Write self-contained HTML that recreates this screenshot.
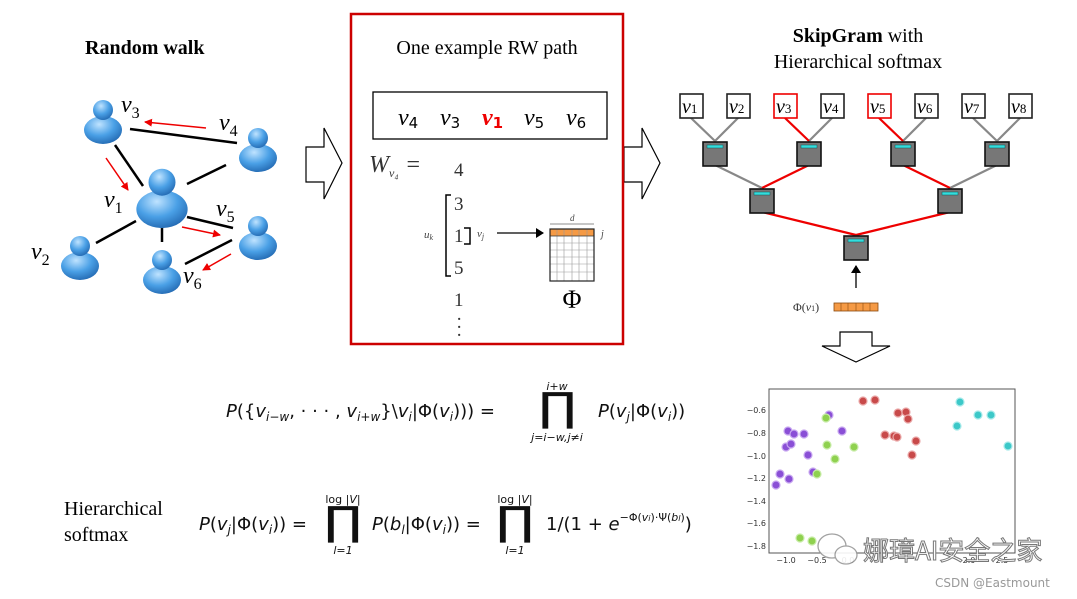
<!DOCTYPE html>
<html><head><meta charset="utf-8"><style>
html,body{margin:0;padding:0;background:#fff;width:1077px;height:599px;overflow:hidden}
svg{display:block}
.s{font-family:"Liberation Serif",serif}
.m{font-family:"Liberation Serif",serif;font-style:italic}
.f{font-family:"DejaVu Sans","Liberation Sans",sans-serif}
</style></head><body>
<svg width="1077" height="599" viewBox="0 0 1077 599" xmlns="http://www.w3.org/2000/svg">
<defs>
<radialGradient id="pg" cx="0.4" cy="0.3" r="0.8">
<stop offset="0" stop-color="#bfe3ff"/><stop offset="0.5" stop-color="#4aa0e6"/><stop offset="1" stop-color="#1c5fa8"/></radialGradient>
<marker id="ar" markerWidth="8" markerHeight="8" refX="7" refY="4" orient="auto" markerUnits="userSpaceOnUse"><path d="M0,0 L8,4 L0,8 z" fill="#e00"/></marker>
<marker id="ab" markerWidth="8" markerHeight="10" refX="7" refY="5" orient="auto" markerUnits="userSpaceOnUse"><path d="M0,0 L8,5 L0,10 z" fill="#000"/></marker>
<g id="p"><ellipse cx="0" cy="12" rx="19" ry="14" fill="url(#pg)"/><circle cx="0" cy="-8" r="10" fill="url(#pg)"/></g>
</defs>

<!-- Random walk -->
<text x="85" y="54" class="s" font-size="20" font-weight="bold">Random walk</text>
<g stroke="#000" stroke-width="2.5">
<line x1="130" y1="129" x2="237" y2="143"/><line x1="115" y1="145" x2="143" y2="186"/>
<line x1="187" y1="184" x2="226" y2="165"/><line x1="96" y1="243" x2="136" y2="221"/>
<line x1="162" y1="224" x2="162" y2="242"/><line x1="187" y1="217" x2="233" y2="228"/>
<line x1="232" y1="240" x2="185" y2="264"/></g>
<g stroke="#e00" stroke-width="1.5">
<line x1="206" y1="128" x2="145" y2="122" marker-end="url(#ar)"/>
<line x1="106" y1="158" x2="128" y2="190" marker-end="url(#ar)"/>
<line x1="182" y1="227" x2="220" y2="235" marker-end="url(#ar)"/>
<line x1="231" y1="254" x2="203" y2="270" marker-end="url(#ar)"/></g>
<use href="#p" x="103" y="118"/><use href="#p" x="258" y="146"/>
<g transform="translate(162,193) scale(1.35)"><use href="#p"/></g>
<use href="#p" x="80" y="254"/><use href="#p" x="162" y="268"/><use href="#p" x="258" y="234"/>
<g class="m" font-size="24">
<text x="121" y="112">v<tspan font-size="16" font-style="normal" dy="6">3</tspan></text>
<text x="219" y="130">v<tspan font-size="16" font-style="normal" dy="6">4</tspan></text>
<text x="104" y="207">v<tspan font-size="16" font-style="normal" dy="6">1</tspan></text>
<text x="216" y="216">v<tspan font-size="16" font-style="normal" dy="6">5</tspan></text>
<text x="31" y="259">v<tspan font-size="16" font-style="normal" dy="6">2</tspan></text>
<text x="183" y="283">v<tspan font-size="16" font-style="normal" dy="6">6</tspan></text>
</g>

<!-- hollow arrows -->
<path d="M306,147 L324,147 L324,128 L342,163 L324,199 L324,182 L306,182 Z" fill="#fff" stroke="#000" stroke-width="1.2"/>
<path d="M624,147 L642,147 L642,128 L660,163 L642,199 L642,182 L624,182 Z" fill="#fff" stroke="#000" stroke-width="1.2"/>
<path d="M840,332 L840,346 L822,346 L856,362 L890,346 L872,346 L872,332 Z" fill="#fff" stroke="#000" stroke-width="1.2"/>

<!-- middle box -->
<rect x="351" y="14" width="272" height="330" fill="none" stroke="#c00" stroke-width="2.5"/>
<text x="487" y="54" class="s" font-size="20" text-anchor="middle">One example RW path</text>
<rect x="373" y="92" width="234" height="47" fill="none" stroke="#000" stroke-width="1.3"/>
<g class="m" font-size="24">
<text x="398" y="125">v<tspan font-size="15" font-style="normal" class="f" dy="3">4</tspan></text>
<text x="440" y="125">v<tspan font-size="15" font-style="normal" class="f" dy="3">3</tspan></text>
<text x="482" y="125" fill="#e00" font-weight="bold">v<tspan font-size="15" font-style="normal" class="f" dy="3">1</tspan></text>
<text x="524" y="125">v<tspan font-size="15" font-style="normal" class="f" dy="3">5</tspan></text>
<text x="566" y="125">v<tspan font-size="15" font-style="normal" class="f" dy="3">6</tspan></text>
</g>
<text x="369" y="172" class="m" font-size="24" fill="#333">W<tspan font-size="12" dy="5">v₄</tspan><tspan dy="-5" font-style="normal" dx="8">=</tspan></text>
<g class="s" font-size="19" fill="#333">
<text x="454" y="176">4</text><text x="454" y="210">3</text><text x="454" y="242">1</text><text x="454" y="274">5</text><text x="454" y="306">1</text>
<text x="456" y="325">·</text><text x="456" y="333">·</text><text x="456" y="341">·</text>
</g>
<path d="M451,195 L446,195 L446,276 L451,276" fill="none" stroke="#000" stroke-width="1.5"/>
<path d="M464,228 L470,228 L470,244 L464,244" fill="none" stroke="#000" stroke-width="1.5"/>
<text x="424" y="238" class="m" font-size="11" fill="#444">u<tspan font-size="8" dy="2">k</tspan></text>
<text x="477" y="237" class="m" font-size="11" fill="#444">v<tspan font-size="8" dy="2">j</tspan></text>
<line x1="497" y1="233" x2="543" y2="233" stroke="#000" stroke-width="1.2" marker-end="url(#ab)"/>
<line x1="550" y1="224" x2="594" y2="224" stroke="#666" stroke-width="0.8"/>
<text x="570" y="221" class="m" font-size="9" fill="#444">d</text>
<text x="601" y="237" class="m" font-size="10" fill="#444">j</text>
<rect x="550" y="229" width="44" height="7" fill="#f59a45"/>
<g stroke="#999" stroke-width="0.6">
<line x1="557" y1="229" x2="557" y2="281"/><line x1="564" y1="229" x2="564" y2="281"/><line x1="572" y1="229" x2="572" y2="281"/><line x1="579" y1="229" x2="579" y2="281"/><line x1="587" y1="229" x2="587" y2="281"/>
<line x1="550" y1="243" x2="594" y2="243"/><line x1="550" y1="250" x2="594" y2="250"/><line x1="550" y1="257" x2="594" y2="257"/><line x1="550" y1="264" x2="594" y2="264"/><line x1="550" y1="272" x2="594" y2="272"/></g>
<line x1="550" y1="236" x2="594" y2="236" stroke="#333" stroke-width="0.8"/>
<rect x="550" y="229" width="44" height="52" fill="none" stroke="#222" stroke-width="1.2"/>
<text x="572" y="308" class="s" font-size="26" text-anchor="middle">Φ</text>

<!-- SkipGram -->
<text x="858" y="42" class="s" font-size="20" text-anchor="middle"><tspan font-weight="bold">SkipGram</tspan> with</text>
<text x="858" y="68" class="s" font-size="20" text-anchor="middle">Hierarchical softmax</text>
<g stroke-width="2.2">
<g stroke="#888">
<line x1="691" y1="118" x2="715" y2="141"/><line x1="738" y1="118" x2="715" y2="141"/>
<line x1="832" y1="118" x2="809" y2="141"/><line x1="926" y1="118" x2="903" y2="141"/>
<line x1="973" y1="118" x2="997" y2="141"/><line x1="1020" y1="118" x2="997" y2="141"/>
<line x1="715" y1="165" x2="762" y2="188"/><line x1="997" y1="165" x2="950" y2="188"/></g>
<g stroke="#e00">
<line x1="785" y1="118" x2="809" y2="141"/><line x1="879" y1="118" x2="903" y2="141"/>
<line x1="809" y1="165" x2="762" y2="188"/><line x1="903" y1="165" x2="950" y2="188"/>
<line x1="762" y1="212" x2="856" y2="235"/><line x1="950" y1="212" x2="856" y2="235"/></g></g>
<g fill="#fff" stroke-width="1.6">
<rect x="680" y="94" width="23" height="24" stroke="#222"/><rect x="727" y="94" width="23" height="24" stroke="#222"/>
<rect x="774" y="94" width="23" height="24" stroke="#e00"/><rect x="821" y="94" width="23" height="24" stroke="#222"/>
<rect x="868" y="94" width="23" height="24" stroke="#e00"/><rect x="915" y="94" width="23" height="24" stroke="#222"/>
<rect x="962" y="94" width="23" height="24" stroke="#222"/><rect x="1009" y="94" width="23" height="24" stroke="#222"/></g>
<g class="m" font-size="20">
<text x="682" y="113">v<tspan font-size="13" font-style="normal">1</tspan></text><text x="729" y="113">v<tspan font-size="13" font-style="normal">2</tspan></text>
<text x="776" y="113">v<tspan font-size="13" font-style="normal">3</tspan></text><text x="823" y="113">v<tspan font-size="13" font-style="normal">4</tspan></text>
<text x="870" y="113">v<tspan font-size="13" font-style="normal">5</tspan></text><text x="917" y="113">v<tspan font-size="13" font-style="normal">6</tspan></text>
<text x="964" y="113">v<tspan font-size="13" font-style="normal">7</tspan></text><text x="1011" y="113">v<tspan font-size="13" font-style="normal">8</tspan></text></g>
<g fill="#777" stroke="#111" stroke-width="1.6">
<rect x="703" y="142" width="24" height="24"/><rect x="797" y="142" width="24" height="24"/><rect x="891" y="142" width="24" height="24"/><rect x="985" y="142" width="24" height="24"/>
<rect x="750" y="189" width="24" height="24"/><rect x="938" y="189" width="24" height="24"/><rect x="844" y="236" width="24" height="24"/></g>
<g fill="#3dd" stroke="#155" stroke-width="0.5">
<rect x="707" y="145" width="16" height="3"/><rect x="801" y="145" width="16" height="3"/><rect x="895" y="145" width="16" height="3"/><rect x="989" y="145" width="16" height="3"/>
<rect x="754" y="192" width="16" height="3"/><rect x="942" y="192" width="16" height="3"/><rect x="848" y="239" width="16" height="3"/></g>
<line x1="856" y1="288" x2="856" y2="266" stroke="#000" stroke-width="1.3" marker-end="url(#ab)"/>
<text x="793" y="311" class="s" font-size="12" fill="#333">Φ(<tspan font-style="italic">v</tspan><tspan font-size="8">1</tspan>)</text>
<rect x="834" y="303" width="44" height="8" fill="#f59a45" stroke="#8a4a10" stroke-width="0.8"/>
<g stroke="#8a4a10" stroke-width="0.6"><line x1="841" y1="303" x2="841" y2="311"/><line x1="848" y1="303" x2="848" y2="311"/><line x1="856" y1="303" x2="856" y2="311"/><line x1="863" y1="303" x2="863" y2="311"/><line x1="870" y1="303" x2="870" y2="311"/></g>

<!-- formulas -->
<g class="f" font-size="18" fill="#111">
<text x="226" y="417"><tspan font-style="italic">P</tspan>({<tspan font-style="italic">v</tspan><tspan font-size="12" font-style="italic" dy="4">i−w</tspan><tspan dy="-4">, · · · , </tspan><tspan font-style="italic">v</tspan><tspan font-size="12" font-style="italic" dy="4">i+w</tspan><tspan dy="-4">}\</tspan><tspan font-style="italic">v</tspan><tspan font-size="12" font-style="italic" dy="4">i</tspan><tspan dy="-4">|Φ(</tspan><tspan font-style="italic">v</tspan><tspan font-size="12" font-style="italic" dy="4">i</tspan><tspan dy="-4">))) =</tspan></text>
<text x="598" y="417"><tspan font-style="italic">P</tspan>(<tspan font-style="italic">v</tspan><tspan font-size="12" font-style="italic" dy="4">j</tspan><tspan dy="-4">|Φ(</tspan><tspan font-style="italic">v</tspan><tspan font-size="12" font-style="italic" dy="4">i</tspan><tspan dy="-4">))</tspan></text>
<text x="199" y="530"><tspan font-style="italic">P</tspan>(<tspan font-style="italic">v</tspan><tspan font-size="12" font-style="italic" dy="4">j</tspan><tspan dy="-4">|Φ(</tspan><tspan font-style="italic">v</tspan><tspan font-size="12" font-style="italic" dy="4">i</tspan><tspan dy="-4">)) =</tspan></text>
<text x="372" y="530"><tspan font-style="italic">P</tspan>(<tspan font-style="italic">b</tspan><tspan font-size="12" font-style="italic" dy="4">l</tspan><tspan dy="-4">|Φ(</tspan><tspan font-style="italic">v</tspan><tspan font-size="12" font-style="italic" dy="4">i</tspan><tspan dy="-4">)) =</tspan></text>
<text x="546" y="530">1/(1 + <tspan font-style="italic">e</tspan><tspan font-size="11" dy="-9">−Φ(<tspan font-style="italic">v<tspan font-size="8">i</tspan></tspan>)·Ψ(<tspan font-style="italic">b<tspan font-size="8">l</tspan></tspan>)</tspan><tspan dy="9">)</tspan></text>
</g>
<g class="f" fill="#111" font-size="40" text-anchor="middle">
<text x="557" y="0" transform="translate(0,421) scale(1.25,1)" dx="-111">∏</text>
<text x="343" y="0" transform="translate(0,535) scale(1.25,1)" dx="-68.6">∏</text>
<text x="515" y="0" transform="translate(0,535) scale(1.25,1)" dx="-103">∏</text></g>
<g class="f" font-size="11" fill="#111" font-style="italic" text-anchor="middle">
<text x="557" y="390">i+w</text><text x="557" y="441">j=i−w,j≠i</text>
<text x="343" y="503" font-style="normal">log |<tspan font-style="italic">V</tspan>|</text><text x="343" y="554">l=1</text>
<text x="515" y="503" font-style="normal">log |<tspan font-style="italic">V</tspan>|</text><text x="515" y="554">l=1</text></g>
<text x="64" y="515" class="s" font-size="20">Hierarchical</text>
<text x="64" y="541" class="s" font-size="20">softmax</text>

<!-- scatter -->
<rect x="769" y="389" width="246" height="164" fill="#fff" stroke="#555" stroke-width="1"/>
<g class="f" font-size="8" fill="#333" text-anchor="end">
<text x="766" y="413">−0.6</text><text x="766" y="436">−0.8</text><text x="766" y="459">−1.0</text><text x="766" y="481">−1.2</text><text x="766" y="504">−1.4</text><text x="766" y="526">−1.6</text><text x="766" y="549">−1.8</text></g>
<g class="f" font-size="8" fill="#333" text-anchor="middle">
<text x="786" y="563">−1.0</text><text x="817" y="563">−0.5</text><text x="848" y="563">0.0</text><text x="969" y="563">2.0</text><text x="1002" y="563">2.5</text></g>
<g fill="#8a4fd6" stroke="#c8a8f0" stroke-width="1.2">
<circle cx="829" cy="415" r="4"/><circle cx="788" cy="431" r="4"/><circle cx="794" cy="434" r="4"/><circle cx="804" cy="434" r="4"/><circle cx="842" cy="431" r="4"/><circle cx="786" cy="447" r="4"/><circle cx="791" cy="444" r="4"/><circle cx="808" cy="455" r="4"/><circle cx="813" cy="472" r="4"/><circle cx="780" cy="474" r="4"/><circle cx="789" cy="479" r="4"/><circle cx="776" cy="485" r="4"/></g>
<g fill="#8fd14f" stroke="#c8eca8" stroke-width="1.2">
<circle cx="826" cy="418" r="4"/><circle cx="827" cy="445" r="4"/><circle cx="854" cy="447" r="4"/><circle cx="835" cy="459" r="4"/><circle cx="817" cy="474" r="4"/><circle cx="800" cy="538" r="4"/><circle cx="812" cy="541" r="4"/></g>
<g fill="#c84a4a" stroke="#eaa8a8" stroke-width="1.2">
<circle cx="863" cy="401" r="4"/><circle cx="875" cy="400" r="4"/><circle cx="898" cy="413" r="4"/><circle cx="906" cy="412" r="4"/><circle cx="908" cy="419" r="4"/><circle cx="885" cy="435" r="4"/><circle cx="894" cy="436" r="4"/><circle cx="897" cy="437" r="4"/><circle cx="916" cy="441" r="4"/><circle cx="912" cy="455" r="4"/></g>
<g fill="#3cc8c8" stroke="#a8eaea" stroke-width="1.2">
<circle cx="960" cy="402" r="4"/><circle cx="978" cy="415" r="4"/><circle cx="991" cy="415" r="4"/><circle cx="957" cy="426" r="4"/><circle cx="1008" cy="446" r="4"/></g>

<!-- watermark -->
<g fill="#fff" stroke="#999" stroke-width="1.3" opacity="0.9">
<ellipse cx="832" cy="546" rx="14" ry="12"/><ellipse cx="846" cy="555" rx="11" ry="9"/></g>
<text x="863" y="560" font-family="'Noto Sans CJK SC','WenQuanYi Zen Hei',sans-serif" font-size="26" fill="#fff" stroke="#777" stroke-width="1">娜璋AI安全之家</text>
<text x="935" y="587" class="f" font-size="12" fill="#999">CSDN @Eastmount</text>
</svg>
</body></html>
